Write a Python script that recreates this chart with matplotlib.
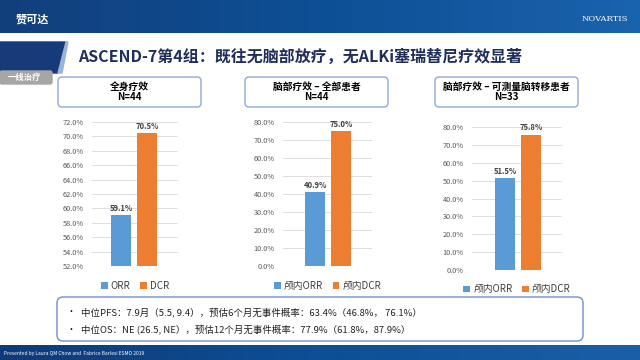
import matplotlib.pyplot as plt
import numpy as np
from matplotlib.colors import LinearSegmentedColormap
from matplotlib.patches import FancyBboxPatch, Polygon

plt.rcParams['font.family'] = ['Noto Sans CJK SC', 'DejaVu Sans']

# chart data
titles = ['全身疗效\nN=44', '脑部疗效 – 全部患者\nN=44', '脑部疗效 – 可测量脑转移患者\nN=33']
series_labels = [['ORR', 'DCR'], ['颅内ORR', '颅内DCR'], ['颅内ORR', '颅内DCR']]
orr_values = [59.1, 40.9, 51.5]
dcr_values = [70.5, 75.0, 75.8]
y_ranges = [(52, 72, 2), (0, 80, 10), (0, 80, 10)]
notes = ['中位PFS：7.9月（5.5, 9.4），预估6个月无事件概率：63.4%（46.8%， 76.1%）',
         '中位OS：NE (26.5, NE），预估12个月无事件概率：77.9%（61.8%，87.9%）']

W, H = 640, 360
fig = plt.figure(figsize=(6.4, 3.6), dpi=100)


def fx(x):
    return x / W


def fy(y):
    return 1 - y / H


# background layer in pixel coordinates
bg = fig.add_axes([0, 0, 1, 1])
bg.set_xlim(0, W)
bg.set_ylim(H, 0)
bg.axis('off')

grad = np.linspace(0, 1, 256).reshape(1, -1)
bg.imshow(grad, extent=[0, W, 33, 0], aspect='auto',
          cmap=LinearSegmentedColormap.from_list('hd', ['#123f7c', '#0d4f95', '#1a63ad']))
bg.imshow(grad, extent=[0, W, H, 345], aspect='auto',
          cmap=LinearSegmentedColormap.from_list('ft', ['#0f3a78', '#0d4f95', '#1a5fa8']))
bg.text(16, 19, '赞可达', color='white', fontsize=8, fontweight='bold', va='center')
bg.text(628, 19, 'NOVARTIS', color='white', fontsize=6, va='center', ha='right', family='DejaVu Serif')
bg.text(4, 353, 'Presented by Laura QM Chow and  Fabrice Barlesi ESMO 2019', color='white', fontsize=3.5, va='center')

# title and marker
bg.add_patch(Polygon([[0, 42], [66, 42], [58, 73], [0, 73]], color='#173a78'))
bg.add_patch(Polygon([[58, 73], [66, 42], [68, 42], [62, 73]], color='#9bb3d8'))
bg.text(78, 57, 'ASCEND-7第4组：既往无脑部放疗，无ALKi塞瑞替尼疗效显著',
        fontsize=11.5, fontweight='bold', color='#1f2f5a', va='center')
bg.add_patch(FancyBboxPatch((0, 71), 52, 13, boxstyle='round,pad=0,rounding_size=2', color='#a6a6a6'))
bg.text(24, 77.5, '一线治疗', color='white', fontsize=6, fontweight='bold', ha='center', va='center')

# header boxes
box_x = [58, 245, 435]
for bx, t in zip(box_x, titles):
    bg.add_patch(FancyBboxPatch((bx, 77), 143, 30, boxstyle='round,pad=0,rounding_size=4',
                                fc='white', ec='#8eaadb', lw=1))
    bg.text(bx + 71.5, 92, t, fontsize=7, fontweight='bold', ha='center', va='center',
            linespacing=1.1, color='black')

# bottom box
bg.add_patch(FancyBboxPatch((57, 297), 526, 44, boxstyle='round,pad=0,rounding_size=6',
                            fc='white', ec='#6f8fd0', lw=1))
for i, n in enumerate(notes):
    y = 312 + i * 17
    bg.text(66, y, '•', fontsize=6.5, va='center')
    bg.text(81, y, n, fontsize=6.8, va='center', color='#222222')

# charts
axes_px = [(92, 178, 122, 266, 29), (283, 372, 122, 266, 32), (472, 562, 127, 270, 33)]
for k, (l, r, t, b, off) in enumerate(axes_px):
    ax = fig.add_axes([fx(l), fy(b), fx(r - l), (b - t) / H])
    ax.set_xlim(-off / 26, -off / 26 + (r - l) / 26)
    lo, hi, step = y_ranges[k]
    ax.set_ylim(lo, hi)
    ticks = np.arange(lo, hi + step / 2, step)
    ax.set_yticks(ticks)
    ax.set_yticklabels([f'{v:.1f}%' for v in ticks])
    ax.tick_params(axis='y', length=0, labelsize=5.3, labelcolor='#595959', pad=6)
    ax.set_xticks([])
    ax.grid(axis='y', color='#d9d9d9', lw=0.6)
    ax.set_axisbelow(True)
    for s in ax.spines.values():
        s.set_visible(False)
    vals = [orr_values[k], dcr_values[k]]
    bars = ax.bar([0, 1], [v - lo for v in vals], width=20 / 26, bottom=lo,
                  color=['#5b9bd5', '#ed7d31'])
    for h, lab in zip(bars, series_labels[k]):
        h.set_label(lab)
    for x, v in zip([0, 1], vals):
        ax.text(x, v + (hi - lo) * 0.015, f'{v:.1f}%', ha='center', va='bottom',
                fontsize=5.5, fontweight='bold', color='#404040')
    ax.legend(handles=list(bars), loc='upper center', bbox_to_anchor=(0.5, -0.04), ncol=2,
              frameon=False, fontsize=7, handlelength=0.7, handleheight=0.7,
              handletextpad=0.3, columnspacing=1.0, labelcolor='#404040')

fig.savefig('out.png', dpi=100)
